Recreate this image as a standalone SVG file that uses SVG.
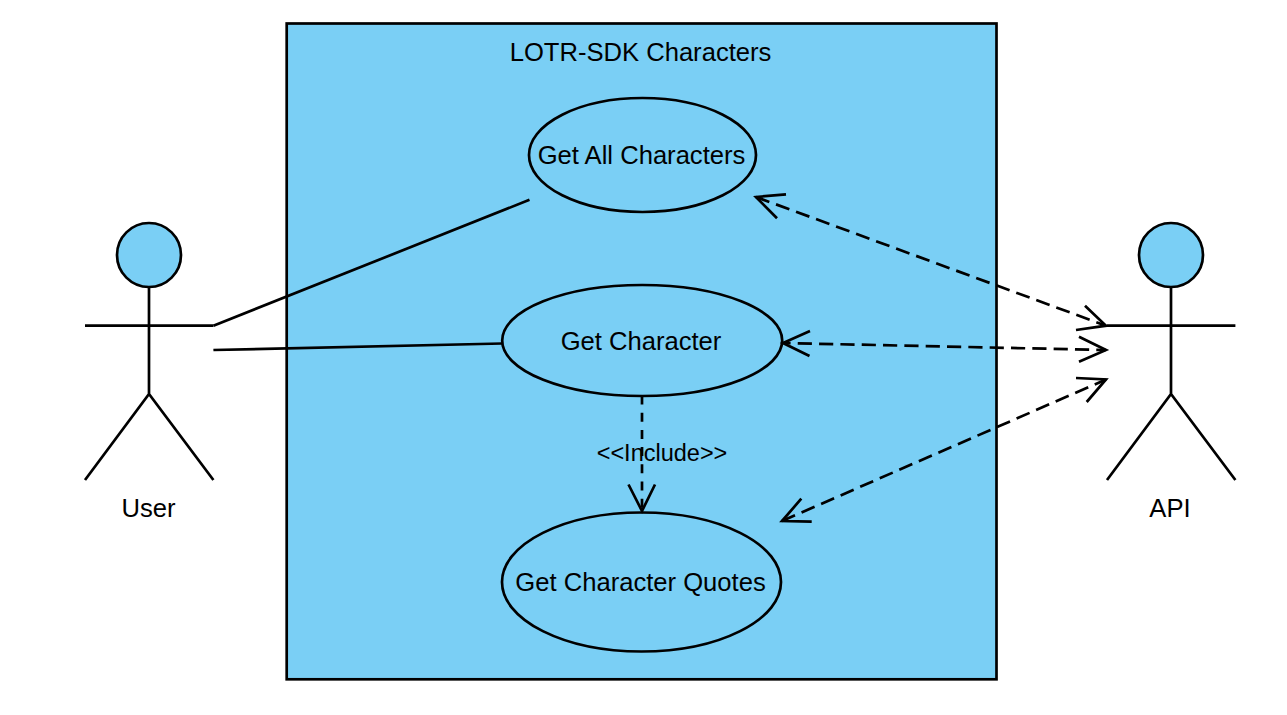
<svg xmlns="http://www.w3.org/2000/svg" width="1287" height="715" viewBox="0 0 1287 715">
<style>
.s{fill:#7acff5;stroke:#000;stroke-width:2.7}
.l{fill:none;stroke:#000;stroke-width:2.7;stroke-miterlimit:10}
.d{fill:none;stroke:#000;stroke-width:2.7;stroke-dasharray:14.2 7.13}
.v{fill:none;stroke:#000;stroke-width:2.7;stroke-dasharray:9 8.2}
text{font-family:"Liberation Sans",Arial,sans-serif;font-size:25.6px;fill:#000;text-anchor:middle}
</style>
<rect width="1287" height="715" fill="#fff"/>
<g id="system"><rect class="s" x="286.700" y="23.500" width="709.800" height="655.800"/><text x="640.500" y="60.500">LOTR-SDK Characters</text></g>
<g id="user"><circle class="s" cx="149" cy="255" r="32"/><path class="l" d="M149 287V394M85 325.700H213.400M85 480L149 394L213.400 480"/><text x="148.500" y="516.500">User</text></g>
<g id="api"><circle class="s" cx="1171" cy="255" r="32"/><path class="l" d="M1171 287V394M1107 325.700H1235.400M1107 480L1171 394L1235.400 480"/><text x="1170" y="516.500">API</text></g>
<g id="getAll"><ellipse class="s" cx="642.500" cy="155" rx="113.500" ry="57"/><text x="641.500" y="163.500">Get All Characters</text></g>
<g id="getCharacter"><ellipse class="s" cx="642.200" cy="340.500" rx="140" ry="55.500"/><text x="641" y="349.500">Get Character</text></g>
<g id="getQuotes"><ellipse class="s" cx="641.500" cy="582" rx="139.500" ry="69.500"/><text x="640.500" y="591">Get Character Quotes</text></g>
<g id="connectors">
<path class="l" d="M213.400 325.700L529.500 199.800"/>
<path class="l" d="M213.400 350L502 343.500"/>
<path class="v" d="M642 395.500V511"/>
<path class="l" d="M628.500 484.500L642 511L655 484.500"/>
<path class="d" d="M756 197L1106 325.700"/>
<path class="l" d="M786 194.300L756 197L777 218.300M1076 330L1106 325.700L1085 305.700"/>
<path class="d" style="stroke-dashoffset:6.6" d="M783 343L1106 350"/>
<path class="l" d="M810 331L783 343L809.500 356M1079 336.700L1106 350L1079 361.700"/>
<path class="d" d="M782 521L1106 379.500"/>
<path class="l" d="M801.300 498.700L782 521L811.700 521.700M1076 378L1106 379.500L1086.700 402"/>
</g>
<g id="include-label"><text x="662" y="460.500" style="font-size:23.5px">&lt;&lt;Include&gt;&gt;</text></g>
</svg>
